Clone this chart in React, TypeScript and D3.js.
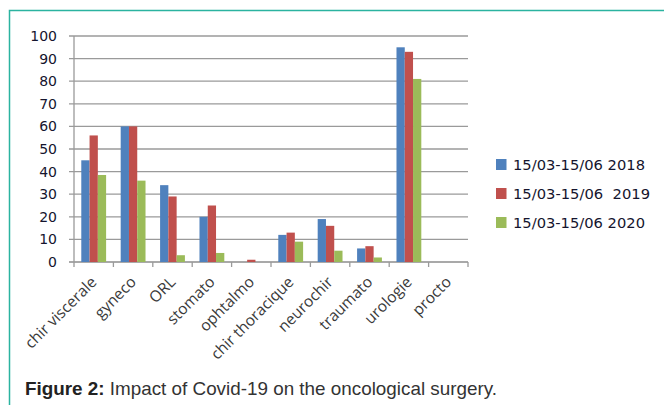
import React from "react";
import * as d3 from "d3";

const categories = ["chir viscerale","gyneco","ORL","stomato","ophtalmo","chir thoracique","neurochir","traumato","urologie","procto"];
const seriesNames = ["15/03-15/06 2018","15/03-15/06  2019","15/03-15/06 2020"];
const s2018 = [45,60,34,20,0,12,19,6,95,0];
const s2019 = [56,60,29,25,1,13,16,7,93,0];
const s2020 = [38.5,36,3,4,0,9,5,2,81,0];
const yTicks = [0,10,20,30,40,50,60,70,80,90,100];
const colors = ["#4f81bd","#c0504d","#9bbb59"];

export default function App() {
  const series = [s2018, s2019, s2020];
  const left = 74, right = 468, top = 36, bottom = 262;
  const x = d3.scaleBand().domain(categories).range([left, right]).paddingInner(0.37).paddingOuter(0.185);
  const xOuter = d3.scaleBand().domain(categories).range([left, right]);
  const sub = d3.scaleBand().domain(["0","1","2"]).range([0, x.bandwidth()]);
  const y = d3.scaleLinear().domain([0, 100]).range([bottom, top]);
  const font = "'DejaVu Sans', Verdana, sans-serif";
  const legendLen = [132, 137, 132];
  return (
    <svg width={664} height={405} style={{ position: "absolute", left: 0, top: 0, background: "#fff" }}>
      <rect x={9.5} y={10.5} width={700} height={420} fill="none" stroke="#2bb3a0" strokeWidth={1.5} />
      {yTicks.map(t => (
        <g key={t}>
          <line x1={left - 5} x2={right} y1={y(t)} y2={y(t)} stroke={t === 0 ? "#8c8c8c" : "#9a9a9a"} strokeWidth={1.3} />
          <text x={57} y={y(t) + 5} textAnchor="end" fontFamily={font} fontSize={14} fill="#15152e">{t}</text>
        </g>
      ))}
      <line x1={left} x2={left} y1={top} y2={bottom + 5} stroke="#9a9a9a" strokeWidth={1.3} />
      {categories.map((c) => (
        <line key={c} x1={(xOuter(c) as number) + xOuter.bandwidth()} x2={(xOuter(c) as number) + xOuter.bandwidth()} y1={bottom} y2={bottom + 5} stroke="#9a9a9a" strokeWidth={1.3} />
      ))}
      {series.map((s, si) => (
        <g key={si}>
          {s.map((v, i) => v > 0 ? (
            <rect key={i} x={(x(categories[i]) as number) + (sub(String(si)) as number)} y={y(v)} width={sub.bandwidth()} height={bottom - y(v)} fill={colors[si]} />
          ) : null)}
        </g>
      ))}
      {categories.map(c => {
        const cx = (xOuter(c) as number) + xOuter.bandwidth() / 2 + 4;
        const cy = bottom + 21;
        return (
          <text key={c} transform={`translate(${cx},${cy}) rotate(-45)`} textAnchor="end" fontFamily="'Open Sans', sans-serif" fontSize={15.5} fill="#3a3a3a">{c}</text>
        );
      })}
      {seriesNames.map((n, i) => (
        <g key={n}>
          <rect x={496} y={159 + i * 29} width={10.5} height={11} fill={colors[i]} />
          <text x={513} y={170 + i * 29} fontFamily={font} fontSize={13.5} fill="#15152e" textLength={legendLen[i]} lengthAdjust="spacingAndGlyphs" style={{ whiteSpace: "pre" }}>{n}</text>
        </g>
      ))}
      <text x={25} y={395} fontFamily="'Liberation Sans', Arial, sans-serif" fontSize={19} fill="#333" textLength={472} lengthAdjust="spacingAndGlyphs">
        <tspan fontWeight="bold" fill="#222">Figure 2:</tspan> Impact of Covid-19 on the oncological surgery.
      </text>
    </svg>
  );
}
